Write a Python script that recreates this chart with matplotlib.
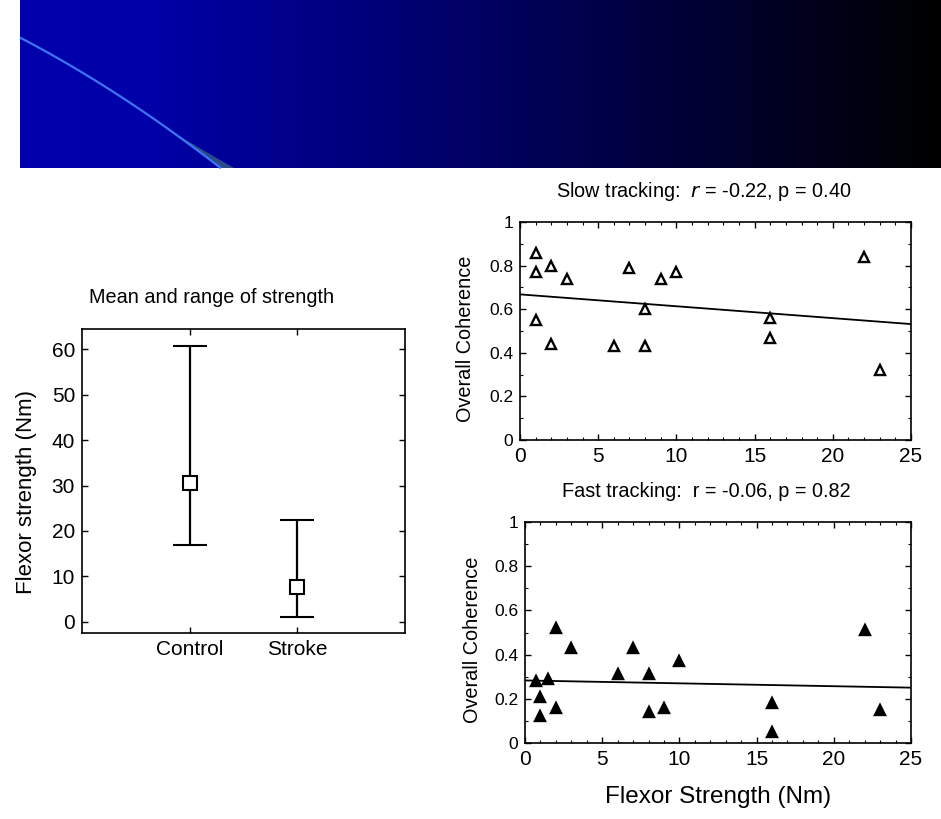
import numpy as np
import matplotlib
matplotlib.use("Agg")
import matplotlib.pyplot as plt
from matplotlib.patches import Polygon
from matplotlib.ticker import MultipleLocator

plt.rcParams['font.family'] = ['Liberation Sans', 'DejaVu Sans']

# ---- data -------------------------------------------------------------
groups = ["Control", "Stroke"]
strength_mean = [30.5, 7.6]
strength_min = [17.0, 1.1]
strength_max = [60.7, 22.5]

slow_x = [1, 1, 1, 2, 2, 3, 6, 7, 8, 8, 9, 10, 16, 16, 22, 23]
slow_y = [0.86, 0.77, 0.55, 0.80, 0.44, 0.74, 0.43, 0.79, 0.60, 0.43,
          0.74, 0.77, 0.56, 0.47, 0.84, 0.32]
slow_fit = [0.668, -0.00545]          # intercept, slope

fast_x = [0.7, 1, 1, 1.5, 2, 2, 3, 6, 7, 8, 8, 9, 10, 16, 16, 22, 23]
fast_y = [0.28, 0.21, 0.12, 0.29, 0.52, 0.16, 0.43, 0.31, 0.43, 0.31,
          0.14, 0.16, 0.37, 0.18, 0.05, 0.51, 0.15]
fast_fit = [0.283, -0.0013]

coh_ticks = [0, 0.2, 0.4, 0.6, 0.8, 1]
coh_ticklabels = ["0", "0.2", "0.4", "0.6", "0.8", "1"]
str_ticks = [0, 5, 10, 15, 20, 25]
flex_ticks = [0, 10, 20, 30, 40, 50, 60]

W, H = 941, 819
fig = plt.figure(figsize=(W / 100, H / 100), dpi=100)
fig.patch.set_facecolor("white")


def px_axes(x0, y0, x1, y1):
    """Axes placed by pixel box (top-left origin)."""
    return fig.add_axes([x0 / W, 1 - y1 / H, (x1 - x0) / W, (y1 - y0) / H])


# ---- slide header band --------------------------------------------------
bg = fig.add_axes([0, 0, 1, 1], zorder=-5)
bg.axis("off")
gx = np.linspace(20, W, 600)
blue = np.interp(gx, [20, 150, W], [172, 168, 0])
grad = np.zeros((2, gx.size, 3))
grad[..., 2] = blue / 255.0
bg.imshow(grad, extent=[20, W, 168, 0], aspect="auto", interpolation="bilinear")
cx = np.linspace(20, 221, 100)
cc = np.polyfit([20, 100, 173, 221], [37.7, 83, 133, 168], 2)
cy = np.polyval(cc, cx)
wedge = Polygon([[165, 128], [221, 168], [234, 168]], closed=True,
                facecolor="#2a4a8c", edgecolor="none")
bg.add_patch(wedge)
bg.plot(cx, cy, color="#3d74f2", lw=1.6, solid_capstyle="butt")
bg.set_xlim(0, W)
bg.set_ylim(H, 0)


def style_axes(ax, xsize, ysize):
    for s in ax.spines.values():
        s.set_linewidth(1.2)
        s.set_color("black")
    ax.tick_params(which="major", direction="in", length=4, width=1,
                   top=True, right=True, colors="black", pad=5)
    ax.tick_params(which="minor", direction="in", length=2, width=0.8,
                   top=True, right=True, colors="black")
    ax.tick_params(axis="x", labelsize=xsize)
    ax.tick_params(axis="y", labelsize=ysize)


# ---- left: mean and range of strength ------------------------------------
ax1 = px_axes(82, 329, 405, 633)
pos = np.arange(1, len(groups) + 1)
lower = np.array(strength_mean) - np.array(strength_min)
upper = np.array(strength_max) - np.array(strength_mean)
ax1.errorbar(pos, strength_mean, yerr=[lower, upper], fmt="s", color="black",
             mfc="white", mec="black", ms=10, mew=1.5, elinewidth=1.6,
             capsize=12, capthick=1.6)
ax1.set_xlim(0, 3)
ax1.set_ylim(-2.5, 64.5)
ax1.set_xticks(pos)
ax1.set_xticklabels(groups)
ax1.set_yticks(flex_ticks)
style_axes(ax1, 15, 15)
ax1.set_ylabel("Flexor strength (Nm)", fontsize=16)
ax1.yaxis.set_label_coords(-0.14, 0.464)
ax1.text(0.40, 1.105, "Mean and range of strength", transform=ax1.transAxes,
         ha="center", va="center", fontsize=14.3)


# ---- right: coherence vs strength ----------------------------------------
def coherence_panel(box, xs, ys, fit, filled, title, lab_xy):
    ax = px_axes(*box)
    fx = np.array([0, 25])
    ax.plot(fx, fit[0] + fit[1] * fx, color="black", lw=1.3)
    ax.plot(xs, ys, linestyle="none", marker="^", ms=7.5, mew=1.7,
            mec="black", mfc="black" if filled else "white")
    ax.set_xlim(0, 25)
    ax.set_ylim(0, 1)
    ax.set_xticks(str_ticks)
    ax.set_yticks(coh_ticks)
    ax.set_yticklabels(coh_ticklabels)
    ax.xaxis.set_minor_locator(MultipleLocator(1))
    ax.yaxis.set_minor_locator(MultipleLocator(0.1))
    style_axes(ax, 15, 12.5)
    ax.set_ylabel("Overall Coherence", fontsize=14.3)
    ax.yaxis.set_label_coords(*lab_xy)
    ax.text(0.47, 1.14, title, transform=ax.transAxes, ha="center",
            va="center", fontsize=14.3)
    return ax


ax2 = coherence_panel((520, 222, 911, 440), slow_x, slow_y, slow_fit, False,
                      "Slow tracking:  $r$ = -0.22, p = 0.40",
                      (-0.115, 0.463))
ax3 = coherence_panel((525, 522, 911, 743), fast_x, fast_y, fast_fit, True,
                      "Fast tracking:  r = -0.06, p = 0.82",
                      (-0.111, 0.466))
ax3.set_xlabel("Flexor Strength (Nm)", fontsize=17.5, labelpad=12)

fig.savefig("out.png", dpi=100)
